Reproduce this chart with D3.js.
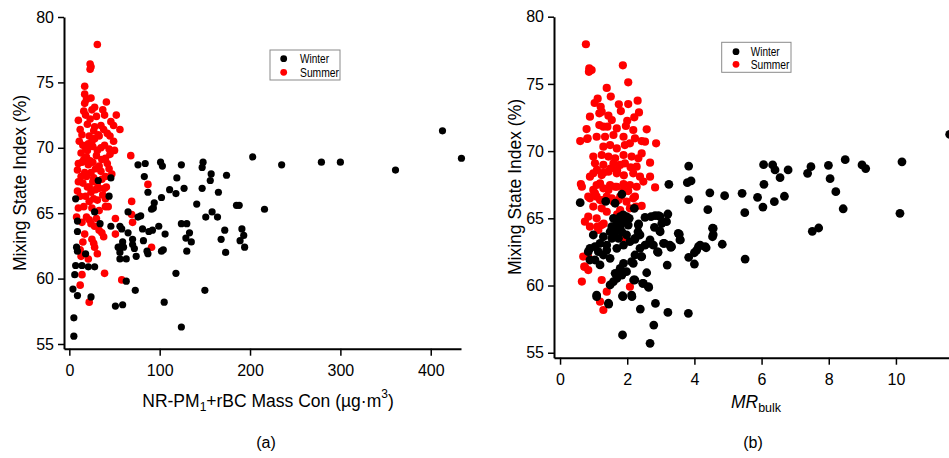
<!DOCTYPE html>
<html>
<head>
<meta charset="utf-8">
<script src="https://cdn.jsdelivr.net/npm/d3@7"></script>
<style>
  body { margin: 0; background: #fff; }
  svg { display: block; }
</style>
</head>
<body>
<div id="chart"></div>
<script>
// Panel (a): NR-PM1+rBC mass concentration vs mixing state index
const winterMass = [
  [413,71.3],[434,69.2],[203,69.3],[235,68.7],[279,68.9],[300,68.9],[361,68.3],
  [76,68.7],[84,68.8],[101,68.9],[103,68.6],[124,68.7],[148,68.9],[147,68.5],[157,68.0],[156,67.5],[174,67.9],
  [119,67.7],[83,67.8],[32,67.5],[46,67.7],[87,66.6],[111,66.8],[118,66.5],[127,66.9],[147,66.9],[165,66.6],
  [102,66.2],[94,65.8],[91,65.3],[44,66.3],[7,66.1],[28,65.1],[141,65.7],[185,65.6],[188,65.6],[216,65.3],[65,65.1],
  [9,64.4],[9,63.6],[8,62.4],[9,62.1],[18,61.9],[7,61.0],[14,61.0],[21,60.9],[28,60.9],[6,60.3],[4,59.2],[9,58.7],[24,58.6],[5,57.0],
  [34,64.2],[46,64.0],[56,64.0],[58,63.8],[56,62.4],[56,62.0],[56,61.5],[59,62.8],[63,61.5],[65,63.5],[70,63.0],[70,62.6],[72,62.3],[74,61.7],
  [54,62.4],[60,62.4],
  [76,64.7],[79,64.8],[81,63.8],[82,62.9],[86,62.1],[87,61.9],[88,63.6],[92,63.7],[93,65.4],
  [99,64.0],[106,63.4],[102,62.1],[104,62.2],[124,64.2],[130,64.2],[133,63.5],[129,63.1],[135,62.8],[130,62.1],
  [151,64.7],[158,65.1],[164,64.7],[172,63.7],[168,63.0],[173,62.0],[191,63.8],[193,63.3],[189,62.9],[194,62.4],
  [118,60.4],[150,59.1],[73,59.1],[63,59.8],[105,58.2],[51,57.9],[59,58.0],[124,56.3],[5,55.6]
];
const summerMass = [
  [31,77.9],[23,76.4],[24,76.2],[23,76.0],[17,74.7],[17,74.1],[19,73.7],[24,73.8],[17,73.4],[28,73.1],[37,72.9],[39,72.5],
  [52,72.5],[16,72.8],[23,72.2],[10,72.1],[28,71.6],[27,71.3],[35,71.7],[38,71.4],[49,71.7],[56,71.4],[22,70.9],[33,70.9],
  [11,70.5],[49,70.5],[39,70.2],[18,70.0],[26,70.1],[50,69.8],[45,69.5],[13,69.6],[19,69.3],[68,69.4],[36,69.1],[40,69.2],
  [42,68.8],[10,68.8],[14,68.9],[21,68.7],[29,68.4],[9,68.3],[35,68.2],[44,68.4],[13,67.8],[19,67.8],[40,67.8],[10,67.4],
  [15,67.3],[26,67.4],[87,67.2],[22,67.0],[41,67.0],[43,65.5],[69,65.9],
  [9,66.7],[20,67.0],[33,66.9],[39,66.9],[37,66.4],[27,66.1],[22,65.9],[16,65.5],[10,65.4],[31,66.0],[40,66.1],[25,65.4],[33,65.2],[40,65.5],
  [8,64.7],[19,64.7],[22,64.5],[24,64.2],[28,64.0],[33,63.7],[36,63.5],[38,63.2],[51,64.6],[69,64.9],[70,64.3],[51,63.4],
  [15,62.8],[27,62.7],[28,62.4],[12,62.2],[31,61.9],[13,61.7],[21,61.5],[91,62.4],[14,60.3],[39,60.4],[12,59.5],[58,59.9],[22,58.2],
  [14,71.0],[20,71.8],[30,72.4],[25,70.5],[31,69.8],[15,70.2],[23,69.0],[33,68.6],[17,68.1],[27,67.7],[12,66.3],[30,69.4],
  [45,70.9],[46,72.0],[41,73.5],[20,69.8],[26,68.9],[35,70.0],[42,71.1],[29,66.8],
  [12,71.4],[18,72.5],[25,72.9],[32,71.0],[21,70.3],[28,70.7],[16,69.1],[24,68.1],[31,67.3],[18,66.3],[24,66.6],
  [36,67.6],[14,64.3],[30,64.6],[17,63.4],[25,63.0],[44,69.9],[47,68.0]
];

// Panel (b): MR_bulk vs mixing state index
const winterMR = [
  [11.6,71.25],[10.18,69.2],[8.49,69.36],[8.99,68.97],[9.1,68.7],[7.99,68.94],[8.04,67.95],[8.21,66.98],[8.43,65.71],
  [7.47,68.84],[7.37,68.35],[6.79,68.6],[6.33,68.97],[6.4,68.6],[6.55,68.02],[6.06,68.99],[6.07,67.53],[6.68,66.64],
  [6.38,66.24],[5.88,66.56],[6.04,65.84],[5.42,66.86],[5.5,65.42],[4.9,66.68],[4.46,66.9],[4.4,65.64],[3.83,68.89],
  [3.79,67.65],[3.9,67.78],[3.83,66.39],[3.24,67.53],[0.6,66.16],[1.36,66.26],[1.64,66.12],[1.84,66.79],[2.21,65.74],
  [10.12,65.37],[7.51,64.03],[7.7,64.28],[5.51,61.97],[4.83,63.07],[4.54,64.26],[4.56,63.78],[4.35,62.81],[4.12,62.89],
  [4.0,62.44],[3.83,62.1],[4.0,61.6],[3.55,63.81],[3.58,63.39],[3.3,62.84],[3.19,61.52],[3.1,63.14],[2.92,62.47],
  [3.82,57.93],[3.21,58.0],[2.84,58.67],[2.39,58.25],[2.79,57.06],[2.14,59.17],[1.87,59.17],[1.45,58.62],[1.09,59.17],
  [2.19,60.41],[2.46,60.16],[2.64,59.86],[2.58,60.95],[3.21,65.32],[3.03,64.63],[2.97,64.08],[2.81,64.33],[2.71,65.12],
  [2.93,65.2],[2.53,65.07],[2.34,64.58],[2.32,64.0],[2.23,63.44],[2.65,63.14],[2.42,62.14],[2.18,61.65],
  [1.88,65.25],[2.06,65.0],[1.59,65.0],[1.79,65.12],[1.98,65.12],[1.89,64.75],[1.69,64.63],[1.54,64.38],[1.79,64.38],
  [2.03,64.5],[1.64,64.0],[1.84,64.0],[1.49,64.0],[1.29,63.63],[1.54,63.51],[1.74,63.51],[1.98,63.76],[1.39,63.01],
  [1.19,63.14],[0.99,63.76],[1.04,62.89],[0.89,62.77],[1.14,62.52],[1.29,62.27],[1.49,62.02],[1.39,62.64],[1.69,62.77],
  [1.89,63.01],[2.08,63.26],[2.23,63.51],[2.38,63.76],[2.33,64.5],[3.17,64.75],[2.98,64.0],[2.68,63.39],[2.53,63.01],
  [2.38,62.77],[2.23,62.27],[2.43,62.15],[2.13,61.77],[1.89,61.65],[1.79,61.28],[1.64,60.91],[1.69,60.53],[1.59,60.29],
  [1.49,60.04],[1.84,60.78],[1.98,61.03],[1.19,61.53],[1.04,61.9],[0.89,61.9],[0.84,62.52],[1.09,59.29],[1.44,58.68],
  [1.86,59.24],[2.13,59.29],[2.23,60.41],[2.48,60.16],[2.63,59.91],[1.86,56.32],[2.68,55.7],[3.52,63.88],[3.57,63.39],
  [3.32,62.89],[3.08,63.14],[2.9,62.52],[2.78,63.01],[4.56,64.25],[4.54,63.63],[4.17,63.01],[4.07,62.64],[4.32,62.89],
  [3.27,63.01],[2.98,65.12],[2.83,65.2]
];
const summerMR = [
  [0.77,77.95],[0.87,76.16],[0.94,76.03],[0.86,75.9],[1.87,76.38],[2.03,75.12],[1.39,74.7],[1.51,74.06],[1.12,73.9],
  [1.03,73.58],[1.21,73.3],[1.24,72.93],[1.75,73.48],[1.81,72.98],[2.03,73.5],[2.31,73.75],[2.35,72.88],[0.89,72.56],
  [1.17,72.81],[0.79,71.64],[0.82,70.95],[0.6,70.75],[1.44,72.64],[1.54,72.31],[2.0,72.26],[2.21,72.51],[1.17,71.94],
  [1.29,71.82],[1.41,71.82],[1.69,71.69],[1.96,71.87],[2.18,71.57],[2.58,71.62],[1.09,71.07],[1.34,71.07],[1.59,71.2],
  [1.89,71.07],[2.23,70.95],[2.43,70.75],[2.86,70.58],[1.29,70.33],[1.49,70.45],[1.69,70.2],[1.93,70.45],[2.08,70.58],
  [0.99,69.59],[1.24,69.71],[1.44,69.59],[1.64,69.46],[1.89,69.71],[2.13,69.59],[2.33,69.46],[2.68,69.14],[1.04,69.09],
  [1.29,68.97],[1.59,69.09],[1.79,68.97],[1.93,69.09],[0.99,68.35],[1.24,68.22],[1.44,68.47],[1.69,68.35],[2.18,68.35],
  [2.38,68.1],[2.68,68.1],[0.62,67.55],[1.19,67.6],[1.49,67.48],[1.89,67.55],[2.08,67.48],[2.83,67.3],
  [0.81,70.9],[0.89,68.1],[2.43,69.83],[2.53,70.7],[2.28,68.84],[2.48,67.73],[0.84,66.61],[1.04,66.86],[1.19,66.36],
  [1.39,66.61],[1.59,66.24],[1.79,66.61],[1.98,66.24],[2.18,66.49],[0.99,65.87],[2.43,65.92],[1.09,67.48],[1.29,67.23],
  [1.69,67.35],[1.89,67.1],[1.1,68.6],[1.3,68.4],[1.5,68.7],[1.7,68.6],[1.9,68.2],[2.1,68.8],
  [0.65,67.35],[0.99,67.11],[1.44,67.11],[1.64,67.35],[2.28,67.35],[2.03,67.03],[0.89,66.49],[1.09,66.61],[1.29,66.36],
  [1.54,66.49],[1.74,66.36],[2.23,66.61],[1.24,65.74],[1.39,65.49],[1.79,65.62],[2.08,65.74],[2.26,65.87],[0.84,65.12],
  [0.74,64.75],[1.09,65.0],[1.24,64.5],[0.89,64.38],[1.14,64.13],[0.69,62.15],[0.74,61.4],[0.84,61.15],[0.65,60.29],
  [1.24,60.41],[1.39,59.54],[1.19,58.8],[1.29,58.18],[2.08,59.91],[0.72,61.4],[0.84,62.14],[1.11,64.38],[1.9,63.6],
  [1.6,64.1],[1.3,64.6],[1.7,65.3]
];

const yTicks = [55, 60, 65, 70, 75, 80];
const massTicks = [0, 100, 200, 300, 400];
const mrTicks = [0, 2, 4, 6, 8, 10];
const seasons = ["Winter", "Summer"];
const seasonColors = ["#000000", "#ff0000"];

const FONT = "'Liberation Sans', Arial, Helvetica, sans-serif";

const svg = d3.select("#chart")
  .append("svg")
  .attr("width", 949)
  .attr("height", 458);

function drawPanel(p) {
  const x = d3.scaleLinear().domain(p.xDomain).range(p.xRange);
  const y = d3.scaleLinear().domain(p.yDomain).range(p.yRange);
  const g = svg.append("g");

  // summer first so winter sits on top
  [[p.summer, seasonColors[1], p.rRed], [p.winter, seasonColors[0], p.rBlack]].forEach(([pts, color, r]) => {
    g.append("g").selectAll("circle")
      .data(pts)
      .join("circle")
      .attr("cx", d => x(d[0]))
      .attr("cy", d => y(d[1]))
      .attr("r", r)
      .attr("fill", color);
  });

  const xAxis = g.append("g")
    .attr("transform", `translate(0,${p.yRange[0]})`)
    .call(d3.axisBottom(x).tickValues(p.xTicks).tickSize(7).tickSizeOuter(0).tickPadding(9));
  const yAxis = g.append("g")
    .attr("transform", `translate(${p.xRange[0]},0)`)
    .call(d3.axisLeft(y).tickValues(yTicks).tickSize(6).tickSizeOuter(0).tickPadding(4));

  [xAxis, yAxis].forEach(a => {
    a.attr("font-family", FONT).attr("font-size", 16);
    a.select(".domain").attr("stroke", "#000").attr("stroke-width", 2);
    a.selectAll(".tick line").attr("stroke", "#000").attr("stroke-width", 1.5);
    a.selectAll(".tick text").attr("fill", "#000");
  });

  // y title
  g.append("text")
    .attr("transform", `translate(${p.yTitleX},${p.yTitleY}) rotate(-90)`)
    .attr("text-anchor", "middle")
    .attr("font-family", FONT)
    .attr("font-size", 17.5)
    .text("Mixing State Index (%)");

  // legend
  const lg = g.append("g").attr("transform", `translate(${p.legend[0]},${p.legend[1]})`);
  lg.append("rect")
    .attr("width", p.legend[2]).attr("height", p.legend[3])
    .attr("fill", "#fff").attr("stroke", "#8a8a8a").attr("stroke-width", 1);
  seasons.forEach((s, i) => {
    lg.append("circle")
      .attr("cx", p.legDotX).attr("cy", p.legRowY[i])
      .attr("r", 3.4).attr("fill", seasonColors[i]);
    lg.append("text")
      .attr("x", p.legTextX).attr("y", p.legRowY[i] + 4.3)
      .attr("font-family", FONT).attr("font-size", 12)
      .attr("textLength", p.legTextLen[i]).attr("lengthAdjust", "spacingAndGlyphs")
      .text(s);
  });

  // panel tag
  g.append("text")
    .attr("x", p.tag[0]).attr("y", p.tag[1])
    .attr("text-anchor", "middle")
    .attr("font-family", FONT).attr("font-size", 16)
    .text(p.tag[2]);

  return g;
}

const gA = drawPanel({
  winter: winterMass, summer: summerMass,
  xDomain: [-5.9, 433.5], xRange: [64, 461],
  yDomain: [54.64, 80], yRange: [348.7, 17],
  xTicks: massTicks, rBlack: 3.6, rRed: 3.8,
  yTitleX: 26, yTitleY: 183,
  legend: [270, 50, 70, 30], legDotX: 13.7, legRowY: [8.7, 22.3], legTextX: 30, legTextLen: [29, 39],
  tag: [266, 448, "(a)"]
});

// x title (a) with sub/superscript
const tA = gA.append("text")
  .attr("x", 268).attr("y", 407)
  .attr("text-anchor", "middle")
  .attr("font-family", FONT).attr("font-size", 17.5);
tA.append("tspan").text("NR-PM");
tA.append("tspan").attr("font-size", 12).attr("dy", 4).text("1");
tA.append("tspan").attr("dy", -4).text("+rBC Mass Con (µg·m");
tA.append("tspan").attr("font-size", 12).attr("dy", -9).text("3");
tA.append("tspan").attr("dy", 9).text(")");

const gB = drawPanel({
  winter: winterMR, summer: summerMR,
  xDomain: [-0.18, 11.58], xRange: [554, 949],
  yDomain: [54.63, 80], yRange: [357.7, 16.7],
  xTicks: mrTicks, rBlack: 4.4, rRed: 4.1,
  yTitleX: 521, yTitleY: 187,
  legend: [721.7, 42.3, 69.3, 30], legDotX: 14.3, legRowY: [9.4, 22], legTextX: 29, legTextLen: [29, 38.7],
  tag: [753, 448, "(b)"]
});

// x title (b): italic MR with "bulk" subscript
const tB = gB.append("text")
  .attr("x", 756).attr("y", 408)
  .attr("text-anchor", "middle")
  .attr("font-family", FONT).attr("font-size", 17.5);
tB.append("tspan").attr("font-style", "italic").text("MR");
tB.append("tspan").attr("font-size", 12.5).attr("dy", 3.5).text("bulk");
</script>
</body>
</html>
